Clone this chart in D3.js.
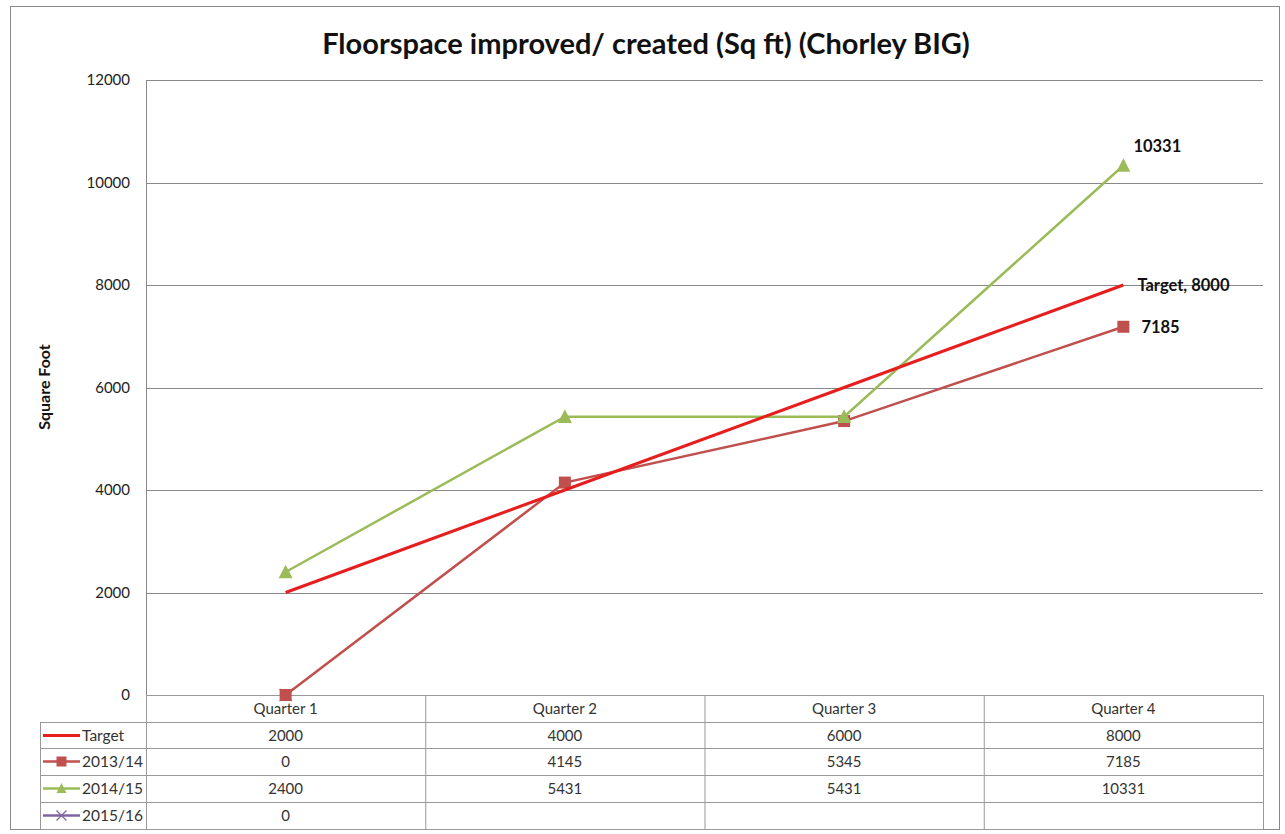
<!DOCTYPE html>
<html>
<head>
<meta charset="utf-8">
<script src="https://cdnjs.cloudflare.com/ajax/libs/d3/7.8.5/d3.min.js"></script>
<style>
  body { margin: 0; background: #fff; }
  svg { font-family: Lato, "Open Sans", sans-serif; }
</style>
</head>
<body>
<svg width="1285" height="834"></svg>
<script>
const cuartos = ['Quarter 1', 'Quarter 2', 'Quarter 3', 'Quarter 4']
const serieNombres = ['Target', '2013/14', '2014/15', '2015/16']
const target = [2000, 4000, 6000, 8000]
const datos1314 = [0, 4145, 5345, 7185]
const datos1415 = [2400, 5431, 5431, 10331]
const datos1516 = [0, null, null, null]
const yTicks = [0, 2000, 4000, 6000, 8000, 10000, 12000]

const colores = ['#e61e1e', '#c0504d', '#9bbb59', '#8064a2']
const marcadores = ['none', 'square', 'triangle', 'cross']
const series = [target, datos1314, datos1415, datos1516]

const svg = d3.select('svg')
const izq = 146, der = 1263, arriba = 80, abajo = 695

// borde exterior
svg.append('rect')
   .attr('x', 10.5).attr('y', 6.5)
   .attr('width', 1269).attr('height', 823)
   .attr('fill', 'none').attr('stroke', '#888').attr('stroke-width', 1)

svg.append('text')
   .attr('x', 646).attr('y', 54)
   .attr('text-anchor', 'middle')
   .attr('font-size', 29).attr('font-weight', 'bold')
   .attr('fill', '#111')
   .text('Floorspace improved/ created (Sq ft) (Chorley BIG)')

const xScale = d3.scaleBand().domain(cuartos).range([izq, der])
const yScale = d3.scaleLinear().domain([0, 12000]).range([abajo, arriba])

// rejilla
svg.append('g')
   .selectAll('line')
   .data(yTicks)
   .enter().append('line')
   .attr('x1', izq).attr('x2', der)
   .attr('y1', d => Math.round(yScale(d)) + 0.5)
   .attr('y2', d => Math.round(yScale(d)) + 0.5)
   .attr('stroke', '#888').attr('stroke-width', 1)

let yAxis = d3.axisLeft(yScale).tickValues(yTicks).tickSize(0).tickPadding(16).tickFormat(d3.format('d'))
const gy = svg.append('g')
   .attr('transform', 'translate(' + izq + ',0)')
   .call(yAxis)
gy.select('.domain').attr('stroke', '#888')
gy.selectAll('text').attr('font-size', 15).attr('fill', '#222').attr('font-family', 'Lato, sans-serif')

svg.append('text')
   .attr('transform', 'translate(50,387) rotate(-90)')
   .attr('text-anchor', 'middle')
   .attr('font-size', 16).attr('font-weight', 'bold')
   .attr('fill', '#111')
   .text('Square Foot')

// tabla de datos
const filas = [695, 722, 748, 775, 802, 829]
const tabla = svg.append('g')
const gris = '#999'

filas.forEach((y, i) => {
   tabla.append('line')
      .attr('x1', i === 0 ? izq : 40).attr('x2', der)
      .attr('y1', y + 0.5).attr('y2', y + 0.5)
      .attr('stroke', gris)
})
tabla.append('line').attr('x1', 40.5).attr('x2', 40.5).attr('y1', 722).attr('y2', 829).attr('stroke', gris)
cuartos.forEach(c => {
   tabla.append('line')
      .attr('x1', xScale(c) + 0.5).attr('x2', xScale(c) + 0.5)
      .attr('y1', 695).attr('y2', 829).attr('stroke', gris)
})
tabla.append('line').attr('x1', der + 0.5).attr('x2', der + 0.5).attr('y1', 695).attr('y2', 829).attr('stroke', gris)

tabla.selectAll('.cab')
   .data(cuartos)
   .enter().append('text')
   .attr('x', d => xScale(d) + xScale.bandwidth() / 2)
   .attr('y', 714)
   .attr('text-anchor', 'middle')
   .attr('font-size', 15).attr('fill', '#333')
   .text(d => d)

function simbolo(tipo, g, x, y, color, tam) {
   if (tipo === 'square') {
      g.append('rect').attr('x', x - tam / 2).attr('y', y - tam / 2)
         .attr('width', tam).attr('height', tam).attr('fill', color)
   } else if (tipo === 'triangle') {
      const h = tam * 0.9
      g.append('path')
         .attr('d', `M${x},${y - h / 2 - 1}L${x + tam / 2},${y + h / 2}L${x - tam / 2},${y + h / 2}Z`)
         .attr('fill', color)
   } else if (tipo === 'cross') {
      const s = tam / 2
      g.append('path')
         .attr('d', `M${x - s},${y - s}L${x + s},${y + s}M${x - s},${y + s}L${x + s},${y - s}`)
         .attr('stroke', color).attr('stroke-width', 1.2)
   }
}

serieNombres.forEach((nombre, i) => {
   const yc = filas[i + 1] + 13.5
   const g = tabla.append('g')
   g.append('line').attr('x1', 43).attr('x2', 80)
      .attr('y1', yc).attr('y2', yc)
      .attr('stroke', colores[i]).attr('stroke-width', i === 0 ? 3 : 2.5)
   simbolo(marcadores[i], g, 61.5, yc, colores[i], 10)
   g.append('text')
      .attr('x', 82).attr('y', yc + 5.5)
      .attr('font-size', 15.5).attr('fill', '#333')
      .text(nombre)
   series[i].forEach((v, j) => {
      if (v === null) return
      g.append('text')
         .attr('x', xScale(cuartos[j]) + xScale.bandwidth() / 2)
         .attr('y', yc + 5.5)
         .attr('text-anchor', 'middle')
         .attr('font-size', 15).attr('fill', '#333')
         .text(v)
   })
})

// lineas de series
const linea = d3.line()
   .defined(d => d.v !== null)
   .x(d => xScale(d.c) + xScale.bandwidth() / 2)
   .y(d => yScale(d.v))

const orden = [3, 1, 2, 0]
orden.forEach(i => {
   const puntos = series[i].map((v, j) => ({ c: cuartos[j], v: v }))
   const g = svg.append('g')
   g.append('path')
      .datum(puntos)
      .attr('d', linea)
      .attr('fill', 'none')
      .attr('stroke', colores[i])
      .attr('stroke-width', i === 0 ? 3 : 2.5)
   puntos.forEach(p => {
      if (p.v === null) return
      simbolo(marcadores[i], g, xScale(p.c) + xScale.bandwidth() / 2, yScale(p.v), colores[i], i === 2 ? 14 : 12)
   })
})

// etiquetas de datos
const etiquetas = [
   { texto: '10331', v: datos1415[3], dx: 10, dy: -14 },
   { texto: 'Target, ' + target[3], v: target[3], dx: 14, dy: 6 },
   { texto: '7185', v: datos1314[3], dx: 18, dy: 6 }
]
svg.selectAll('.etq')
   .data(etiquetas)
   .enter().append('text')
   .attr('x', d => xScale(cuartos[3]) + xScale.bandwidth() / 2 + d.dx)
   .attr('y', d => yScale(d.v) + d.dy)
   .attr('font-size', 16.5).attr('font-weight', 'bold')
   .attr('fill', '#111')
   .text(d => d.texto)
</script>
</body>
</html>
